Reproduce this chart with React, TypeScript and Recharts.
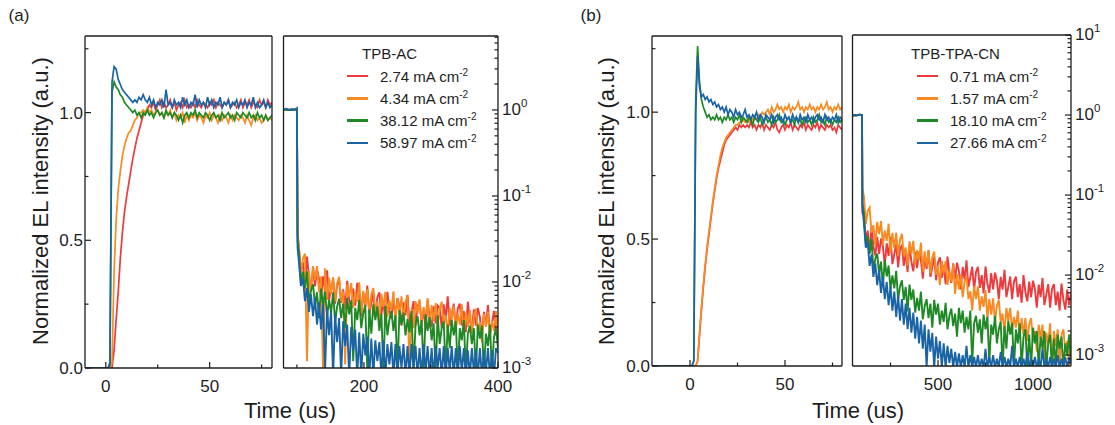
import React from 'react';
import { LineChart, Line, XAxis, YAxis } from 'recharts';

const W = 1115;
const H = 425;
const FONT = '"Liberation Sans", Arial, Helvetica, sans-serif';
const INK = '#1e1e1e';

const KEYS = ['red', 'orange', 'green', 'blue'];
const COLORS = ['#EE393D', '#F88A21', '#1F8A25', '#1A64A6'];
const CURRENTS_A = ['2.74', '4.34', '38.12', '58.97'];
const CURRENTS_B = ['0.71', '1.57', '18.10', '27.66'];

// tick values
const LIN_X_MAJOR = [0, 50];
const LIN_X_MINOR = [25, 75];
const LIN_Y_MAJOR = [0, 0.5, 1.0];
const LIN_Y_MINOR = [0.25, 0.75, 1.25];
const A2_X_MAJOR = [200, 400];
const A2_X_MINOR = [100, 300];
const B2_X_MAJOR = [500, 1000];
const B2_X_MINOR = [250, 750];
const A2_DECADES = [0.001, 0.01, 0.1, 1];
const B2_DECADES = [0.001, 0.01, 0.1, 1, 10];

// ---- (a) TPB-AC, rise (linear) ----
const T_A1 = [-10, 0, 1, 2, 3, 4, 5, 6, 7, 8, 9, 10, 11, 12, 13, 14, 15, 16, 17, 18, 19, 20,
  21, 22, 23, 24, 25, 26, 27, 28, 29, 30, 31, 32, 33, 34, 35, 36, 37, 38, 39, 40,
  41, 42, 43, 44, 45, 46, 47, 48, 49, 50, 51, 52, 53, 54, 55, 56, 57, 58, 59, 60,
  61, 62, 63, 64, 65, 66, 67, 68, 69, 70, 71, 72, 73, 74, 75, 76, 77, 78, 79, 80];
const A1_RED = [0,
  0, 0, 0, 0, 0.07, 0.19, 0.3, 0.43, 0.53, 0.61,
  0.67, 0.72, 0.77, 0.82, 0.86, 0.9, 0.93, 0.96, 0.99, 1.0,
  1.01, 1.03, 1.02, 1.04, 1.01, 1.03, 1.05, 1.02, 1.04, 1.02,
  1.03, 1.05, 1.02, 1.04, 1.01, 1.03, 1.04, 1.02, 1.05, 1.02,
  1.03, 1.02, 1.04, 1.02, 1.05, 1.03, 1.02, 1.04, 1.03, 1.02,
  1.04, 1.03, 1.05, 1.02, 1.04, 1.03, 1.02, 1.04, 1.03, 1.05,
  1.02, 1.03, 1.04, 1.02, 1.03, 1.05, 1.02, 1.04, 1.03, 1.05,
  1.02, 1.04, 1.03, 1.02, 1.05, 1.03, 1.04, 1.02, 1.05, 1.03,
  1.04];
const A1_ORANGE = [0,
  0, 0, 0, 0.02, 0.38, 0.58, 0.7, 0.77, 0.83, 0.87,
  0.9, 0.92, 0.93, 0.95, 0.97, 0.98, 1.0, 1.0, 1.01, 1.0,
  1.02, 1.0, 1.01, 0.99, 1.0, 1.01, 0.99, 1.0, 0.98, 1.0,
  0.99, 1.01, 0.98, 1.0, 0.97, 0.99, 0.98, 1.0, 0.96, 0.99,
  0.97, 0.99, 0.98, 1.0, 0.97, 0.99, 0.98, 0.96, 0.99, 0.98,
  1.0, 0.97, 0.99, 0.98, 0.96, 0.99, 0.97, 0.99, 0.98, 0.96,
  0.99, 0.97, 0.99, 0.98, 0.97, 0.99, 0.98, 0.96, 0.99, 0.97,
  0.95, 0.98, 0.99, 0.97, 0.98, 0.96, 0.97, 0.99, 0.97, 0.98,
  0.97];
const A1_GREEN = [0,
  0, 0, 0.01, 1.08, 1.12, 1.1, 1.09, 1.07, 1.06, 1.04,
  1.03, 1.02, 1.01, 1.0, 1.01, 0.99, 1.0, 0.98, 1.0, 0.99,
  1.01, 0.99, 1.0, 0.98, 1.0, 1.01, 0.99, 1.0, 0.98, 1.01,
  0.99, 1.0, 0.98, 1.0, 0.99, 0.97, 0.99, 0.96, 0.99, 1.0,
  0.98, 1.0, 0.99, 1.01, 0.98, 1.0, 0.99, 0.98, 1.0, 0.99,
  0.97, 0.99, 1.0, 0.98, 0.99, 0.97, 1.0, 0.98, 0.99, 1.0,
  0.98, 0.99, 0.97, 1.0, 0.99, 0.98, 1.0, 0.99, 0.98, 1.0,
  0.98, 0.99, 0.97, 1.0, 0.98, 0.99, 0.97, 0.99, 0.97, 0.98,
  0.99];
const A1_BLUE = [0,
  0, 0, 0.02, 1.12, 1.18, 1.17, 1.13, 1.11, 1.09, 1.08,
  1.07, 1.06, 1.05, 1.04, 1.05, 1.04, 1.06, 1.05, 1.07, 1.05,
  1.04, 1.06, 1.03, 1.05, 1.02, 1.04, 1.03, 1.05, 1.02, 1.09,
  1.03, 1.04, 1.02, 1.05, 1.03, 1.04, 1.02, 1.06, 1.03, 1.05,
  1.02, 1.04, 1.03, 1.07, 1.02, 1.05, 1.03, 1.04, 1.02, 1.06,
  1.03, 1.05, 1.02, 1.04, 1.03, 1.06, 1.02, 1.04, 1.03, 1.05,
  1.02, 1.04, 1.03, 1.05, 1.02, 1.04, 1.03, 1.05, 1.02, 1.04,
  1.03, 1.06, 1.02, 1.04, 1.02, 1.03, 1.05, 1.02, 1.04, 1.02,
  1.03];

// ---- (a) TPB-AC, decay (log) ----
const T_A2 = [80, 84, 88, 92, 96, 100, 101,
  103, 106, 109, 112, 115, 118, 121, 124, 127, 130,
  133, 136, 139, 142, 145, 148, 151, 154, 157, 160,
  163, 166, 169, 172, 175, 178, 181, 184, 187, 190,
  193, 196, 199, 202, 205, 208, 211, 214, 217, 220,
  223, 226, 229, 232, 235, 238, 241, 244, 247, 250,
  253, 256, 259, 262, 265, 268, 271, 274, 277, 280,
  283, 286, 289, 292, 295, 298, 301, 304, 307, 310,
  313, 316, 319, 322, 325, 328, 331, 334, 337, 340,
  343, 346, 349, 352, 355, 358, 361, 364, 367, 370,
  373, 376, 379, 382, 385, 388, 391, 394, 397, 400];
const A2_RED = [1.0, 1.02, 1.0, 1.01, 1.0, 1.01, 0.035,
  0.025, 0.013, 0.017, 0.0094, 0.0197, 0.0115, 0.0085, 0.0145, 0.0089, 0.014,
  0.0109, 0.0062, 0.0116, 0.008, 0.0137, 0.0062, 0.0081, 0.0109, 0.0056, 0.0092,
  0.0105, 0.0057, 0.0082, 0.0048, 0.0103, 0.0063, 0.0048, 0.0084, 0.0053, 0.0098,
  0.0068, 0.004, 0.0075, 0.0052, 0.0091, 0.0042, 0.0056, 0.0075, 0.0039, 0.0066,
  0.0076, 0.0042, 0.006, 0.0035, 0.0077, 0.0047, 0.0037, 0.0064, 0.004, 0.0065,
  0.0052, 0.0031, 0.0058, 0.0041, 0.0071, 0.0033, 0.0044, 0.006, 0.0031, 0.0052,
  0.006, 0.0033, 0.0048, 0.0028, 0.0062, 0.0039, 0.003, 0.0052, 0.0033, 0.0053,
  0.005, 0.0029, 0.0055, 0.0038, 0.0068, 0.0031, 0.0042, 0.0056, 0.0029, 0.0049,
  0.0056, 0.0031, 0.0046, 0.0026, 0.0059, 0.0036, 0.0028, 0.0048, 0.0031, 0.005,
  0.0039, 0.0023, 0.0045, 0.0031, 0.0054, 0.0025, 0.0033, 0.0046, 0.0024, 0.0041];
const A2_ORANGE = [1.0, 1.01, 1.0, 1.02, 1.0, 1.0, 0.04,
  0.026, 0.0126, 0.0187, 0.0213, 0.0012, 0.0135, 0.0077, 0.0153, 0.0105, 0.0153,
  0.0076, 0.0116, 0.0009, 0.0144, 0.0062, 0.0112, 0.0072, 0.0114, 0.006, 0.0097,
  0.0115, 0.006, 0.0078, 0.0011, 0.0094, 0.0067, 0.0097, 0.005, 0.0077, 0.0059,
  0.0099, 0.0044, 0.0079, 0.0052, 0.0083, 0.0044, 0.0071, 0.0085, 0.0045, 0.006,
  0.0035, 0.0073, 0.0051, 0.0077, 0.0039, 0.0061, 0.0047, 0.0078, 0.0034, 0.0064,
  0.0042, 0.0068, 0.0036, 0.0059, 0.007, 0.0009, 0.0049, 0.0029, 0.006, 0.0043,
  0.0063, 0.0033, 0.0051, 0.0039, 0.0065, 0.0029, 0.0054, 0.0035, 0.0057, 0.003,
  0.0049, 0.0059, 0.0032, 0.0041, 0.0025, 0.005, 0.0036, 0.0053, 0.0027, 0.0043,
  0.0032, 0.0055, 0.0025, 0.0044, 0.003, 0.0047, 0.0025, 0.004, 0.0049, 0.0026,
  0.0034, 0.002, 0.0043, 0.003, 0.0045, 0.0023, 0.0035, 0.0027, 0.0046, 0.0021];
const A2_GREEN = [1.0, 1.01, 1.0, 1.0, 1.02, 1.0, 0.03,
  0.022, 0.0098, 0.0132, 0.0084, 0.0133, 0.0057, 0.008, 0.0094, 0.0053, 0.0076,
  0.0038, 0.0084, 0.0054, 0.0077, 0.004, 0.0062, 0.0044, 0.0076, 0.0034, 0.0052,
  0.0064, 0.0038, 0.0056, 0.0029, 0.0065, 0.0042, 0.0061, 0.0012, 0.005, 0.0036,
  0.0062, 0.0029, 0.0043, 0.0054, 0.0009, 0.0048, 0.0025, 0.0055, 0.0036, 0.0052,
  0.0027, 0.0043, 0.0009, 0.0053, 0.0024, 0.0037, 0.0046, 0.0027, 0.0041, 0.0009,
  0.0047, 0.0032, 0.0044, 0.0024, 0.0037, 0.0026, 0.0046, 0.0009, 0.0032, 0.004,
  0.0024, 0.0036, 0.0009, 0.0042, 0.0027, 0.0039, 0.0021, 0.0033, 0.0009, 0.0041,
  0.0019, 0.0029, 0.0035, 0.0009, 0.0032, 0.0017, 0.0036, 0.0024, 0.0035, 0.0009,
  0.0029, 0.0021, 0.0036, 0.0009, 0.0025, 0.0031, 0.0019, 0.0029, 0.0009, 0.0032,
  0.0022, 0.0031, 0.0009, 0.0025, 0.0018, 0.0032, 0.0009, 0.0023, 0.0029, 0.0017];
const A2_BLUE = [1.01, 1.03, 1.0, 1.02, 1.0, 1.05, 0.025,
  0.017, 0.009, 0.011, 0.006, 0.0085, 0.0045, 0.0072, 0.004, 0.0065, 0.0032,
  0.0058, 0.0028, 0.0055, 0.0009, 0.005, 0.0024, 0.0046, 0.0008, 0.0042, 0.002,
  0.0038, 0.0008, 0.0035, 0.0018, 0.0032, 0.0008, 0.003, 0.0016, 0.0028, 0.0008,
  0.0026, 0.0008, 0.0025, 0.0014, 0.0023, 0.0008, 0.0022, 0.0008, 0.0021, 0.0012,
  0.002, 0.0008, 0.0021, 0.0008, 0.0019, 0.0011, 0.002, 0.0008, 0.0019, 0.0008,
  0.0018, 0.001, 0.0019, 0.0008, 0.0018, 0.0008, 0.0019, 0.001, 0.0018, 0.0008,
  0.0017, 0.0008, 0.0019, 0.0009, 0.0018, 0.0008, 0.0017, 0.0008, 0.0018, 0.001,
  0.0017, 0.0008, 0.0018, 0.0008, 0.0017, 0.0009, 0.0018, 0.0008, 0.0017, 0.0008,
  0.0018, 0.0009, 0.0017, 0.0008, 0.0016, 0.0008, 0.0017, 0.0009, 0.0016, 0.0008,
  0.0017, 0.0008, 0.0016, 0.0009, 0.0017, 0.0008, 0.0016, 0.0008, 0.0017, 0.0015];

// ---- (b) TPB-TPA-CN, rise (linear) ----
const T_B1 = [-20, 0, 1, 2, 3, 4, 5, 6, 7, 8, 9, 10, 11, 12, 13, 14, 15, 16, 17, 18, 19, 20,
  21, 22, 23, 24, 25, 26, 27, 28, 29, 30, 31, 32, 33, 34, 35, 36, 37, 38, 39, 40,
  41, 42, 43, 44, 45, 46, 47, 48, 49, 50, 51, 52, 53, 54, 55, 56, 57, 58, 59, 60,
  61, 62, 63, 64, 65, 66, 67, 68, 69, 70, 71, 72, 73, 74, 75, 76, 77, 78, 79, 80];
const B1_RED = [0,
  0, 0, 0, 0, 0.02, 0.12, 0.22, 0.31, 0.39, 0.46,
  0.52, 0.58, 0.64, 0.69, 0.74, 0.78, 0.81, 0.84, 0.87, 0.89,
  0.9, 0.91, 0.92, 0.93, 0.94, 0.93, 0.95, 0.94, 0.95, 0.94,
  0.95, 0.94, 0.96, 0.94, 0.95, 0.93, 0.95, 0.94, 0.96, 0.93,
  0.95, 0.94, 0.93, 0.95, 0.94, 0.96, 0.93, 0.92, 0.94, 0.95,
  0.93, 0.95, 0.94, 0.96, 0.93, 0.95, 0.94, 0.93, 0.95, 0.94,
  0.96, 0.93, 0.95, 0.94, 0.93, 0.95, 0.94, 0.96, 0.93, 0.95,
  0.94, 0.93, 0.95, 0.94, 0.95, 0.93, 0.94, 0.92, 0.95, 0.94,
  0.93];
const B1_ORANGE = [0,
  0, 0, 0, 0, 0.02, 0.13, 0.23, 0.32, 0.4, 0.47,
  0.53, 0.59, 0.65, 0.7, 0.75, 0.79, 0.83, 0.86, 0.88, 0.9,
  0.91, 0.92, 0.93, 0.94, 0.95, 0.95, 0.96, 0.96, 0.97, 0.96,
  0.97, 0.96, 0.98, 0.97, 0.98, 0.97, 0.99, 0.98, 1.0, 0.99,
  1.0, 1.01, 0.99, 1.02, 1.0, 1.01, 1.03, 1.01, 1.02, 1.0,
  1.02, 1.01, 1.03, 1.0, 1.02, 1.01, 1.02, 1.04, 1.01, 1.02,
  1.0, 1.02, 1.01, 1.03, 1.01, 1.02, 1.0, 1.02, 1.01, 1.03,
  1.01, 1.02, 1.04, 1.01, 1.02, 1.0, 1.02, 1.01, 1.03, 1.01,
  1.02];
const B1_GREEN = [0,
  0, 0, 0.02, 1.05, 1.26, 1.12, 1.05, 1.02, 1.0, 0.98,
  0.99, 0.97, 0.98, 0.97, 0.99, 0.97, 0.98, 0.96, 0.98, 0.97,
  0.99, 0.97, 0.98, 0.96, 0.98, 0.97, 0.99, 0.96, 0.98, 0.97,
  0.96, 0.98, 0.97, 0.95, 0.98, 0.97, 0.96, 0.98, 0.95, 0.97,
  0.98, 0.96, 0.97, 0.95, 0.98, 0.96, 0.97, 0.99, 0.96, 0.97,
  0.95, 0.97, 0.98, 0.96, 0.97, 0.95, 0.98, 0.96, 0.97, 0.95,
  0.97, 0.98, 0.96, 0.97, 0.95, 0.98, 0.96, 0.97, 0.99, 0.96,
  0.97, 0.95, 0.98, 0.96, 0.97, 0.95, 0.97, 0.96, 0.98, 0.96,
  0.97];
const B1_BLUE = [0,
  0, 0, 0.02, 1.0, 1.22, 1.1, 1.06, 1.07, 1.05, 1.06,
  1.04, 1.05, 1.03, 1.04, 1.02, 1.03, 1.01, 1.02, 1.0, 1.02,
  0.99, 1.01, 1.0, 0.98, 1.01, 0.99, 1.0, 0.98, 0.99, 1.01,
  0.98, 0.99, 0.97, 0.99, 0.98, 1.0, 0.97, 0.99, 0.98, 0.96,
  0.99, 0.98, 0.97, 0.99, 0.96, 0.98, 0.99, 0.97, 0.98, 0.96,
  0.99, 0.97, 0.98, 0.96, 0.99, 0.97, 0.98, 0.96, 0.99, 0.97,
  0.98, 0.96, 0.99, 0.97, 0.98, 0.96, 0.98, 0.99, 0.97, 0.98,
  0.96, 0.99, 0.97, 0.98, 0.96, 0.98, 0.97, 0.99, 0.96, 0.98,
  0.97];

// ---- (b) TPB-TPA-CN, decay (log) ----
const T_B2 = [50, 60, 70, 80, 90, 100, 102,
  110, 120, 130, 140, 150, 160, 170, 180, 190, 200,
  210, 220, 230, 240, 250, 260, 270, 280, 290, 300,
  310, 320, 330, 340, 350, 360, 370, 380, 390, 400,
  410, 420, 430, 440, 450, 460, 470, 480, 490, 500,
  510, 520, 530, 540, 550, 560, 570, 580, 590, 600,
  610, 620, 630, 640, 650, 660, 670, 680, 690, 700,
  710, 720, 730, 740, 750, 760, 770, 780, 790, 800,
  810, 820, 830, 840, 850, 860, 870, 880, 890, 900,
  910, 920, 930, 940, 950, 960, 970, 980, 990, 1000,
  1010, 1020, 1030, 1040, 1050, 1060, 1070, 1080, 1090, 1100,
  1110, 1120, 1130, 1140, 1150, 1160, 1170, 1180, 1190, 1200];
const B2_RED = [0.98, 1.0, 0.99, 1.0, 1.01, 1.0, 0.06,
  0.054, 0.027, 0.036, 0.0195, 0.039, 0.023, 0.0175, 0.03, 0.0184, 0.0286,
  0.0227, 0.0131, 0.025, 0.0173, 0.03, 0.0137, 0.0182, 0.0244, 0.0125, 0.0207,
  0.0239, 0.013, 0.0188, 0.0109, 0.0239, 0.0146, 0.0111, 0.0195, 0.0122, 0.0195,
  0.0154, 0.009, 0.017, 0.0119, 0.0205, 0.0095, 0.0125, 0.0169, 0.0086, 0.0144,
  0.0166, 0.0092, 0.0132, 0.0077, 0.017, 0.0104, 0.008, 0.014, 0.0089, 0.0143,
  0.0113, 0.0066, 0.0126, 0.0088, 0.0153, 0.0071, 0.0094, 0.0127, 0.0065, 0.0109,
  0.0127, 0.0069, 0.01, 0.0059, 0.0128, 0.0078, 0.006, 0.0106, 0.0066, 0.0107,
  0.0085, 0.005, 0.0095, 0.0066, 0.0116, 0.0053, 0.0071, 0.0096, 0.005, 0.0083,
  0.0096, 0.0053, 0.0077, 0.0045, 0.01, 0.0061, 0.0047, 0.0083, 0.0053, 0.0085,
  0.0067, 0.0039, 0.0076, 0.0053, 0.0092, 0.0042, 0.0057, 0.0077, 0.0039, 0.0067,
  0.0077, 0.0042, 0.0062, 0.0036, 0.0078, 0.0049, 0.0037, 0.0066, 0.0042, 0.006];
const B2_ORANGE = [0.98, 1.0, 0.99, 1.0, 1.01, 1.0, 0.12,
  0.0975, 0.0434, 0.0633, 0.07, 0.0338, 0.042, 0.0234, 0.0463, 0.0324, 0.0473,
  0.0237, 0.0359, 0.0267, 0.0438, 0.0189, 0.0336, 0.0216, 0.0338, 0.0175, 0.0276,
  0.0328, 0.0171, 0.0222, 0.013, 0.0263, 0.0184, 0.0267, 0.0134, 0.0205, 0.0153,
  0.0254, 0.011, 0.0198, 0.0128, 0.0202, 0.0105, 0.0167, 0.0196, 0.0101, 0.013,
  0.0075, 0.015, 0.0104, 0.015, 0.0075, 0.0113, 0.0083, 0.0136, 0.0058, 0.0102,
  0.0066, 0.0103, 0.0053, 0.0083, 0.0097, 0.005, 0.0063, 0.0036, 0.0073, 0.005,
  0.0072, 0.0036, 0.0054, 0.004, 0.0065, 0.0028, 0.005, 0.0032, 0.0051, 0.0026,
  0.0041, 0.0049, 0.0026, 0.0033, 0.0019, 0.0039, 0.0027, 0.0039, 0.002, 0.003,
  0.0022, 0.0036, 0.0016, 0.0029, 0.0018, 0.0029, 0.0015, 0.0024, 0.0029, 0.0015,
  0.002, 0.0011, 0.0024, 0.0016, 0.0024, 0.0008, 0.0019, 0.0014, 0.0025, 0.0007,
  0.002, 0.0013, 0.0021, 0.0007, 0.0018, 0.0021, 0.0011, 0.0015, 0.0007, 0.0019];
const B2_GREEN = [0.98, 1.0, 0.99, 1.0, 1.01, 1.0, 0.08,
  0.0585, 0.0245, 0.0308, 0.0184, 0.028, 0.0117, 0.016, 0.0185, 0.0104, 0.0147,
  0.0073, 0.0154, 0.0096, 0.0131, 0.0067, 0.0099, 0.0068, 0.0113, 0.0049, 0.0072,
  0.0086, 0.0049, 0.0071, 0.0035, 0.0076, 0.0049, 0.0066, 0.0034, 0.0052, 0.0036,
  0.0062, 0.0028, 0.0041, 0.005, 0.0029, 0.0044, 0.0022, 0.0049, 0.0032, 0.0044,
  0.0024, 0.0036, 0.0026, 0.0045, 0.0021, 0.0031, 0.0038, 0.0023, 0.0033, 0.0017,
  0.0039, 0.0025, 0.0036, 0.0019, 0.003, 0.0021, 0.0036, 0.0008, 0.0025, 0.0031,
  0.0019, 0.0028, 0.0014, 0.0032, 0.0021, 0.003, 0.0008, 0.0024, 0.0018, 0.0031,
  0.0014, 0.0021, 0.0026, 0.0007, 0.0023, 0.0012, 0.0027, 0.0018, 0.0025, 0.0007,
  0.0021, 0.0014, 0.0025, 0.0007, 0.0017, 0.0021, 0.0007, 0.0018, 0.0007, 0.0022,
  0.0014, 0.002, 0.0007, 0.0017, 0.0012, 0.002, 0.0007, 0.0014, 0.0018, 0.0007,
  0.0016, 0.0007, 0.0018, 0.0012, 0.0017, 0.0007, 0.0014, 0.001, 0.0018, 0.0008];
const B2_BLUE = [0.98, 1.0, 0.99, 1.0, 1.01, 1.0, 0.07,
  0.045, 0.022, 0.026, 0.013, 0.018, 0.0095, 0.014, 0.0075, 0.0115, 0.006,
  0.0095, 0.005, 0.0082, 0.0042, 0.0072, 0.0036, 0.0062, 0.003, 0.0056, 0.0027,
  0.005, 0.0024, 0.0044, 0.0021, 0.0039, 0.0019, 0.0034, 0.0016, 0.003, 0.0014,
  0.0027, 0.0012, 0.0024, 0.0007, 0.0021, 0.0011, 0.0019, 0.0007, 0.0017, 0.0009,
  0.0015, 0.0007, 0.0014, 0.0007, 0.0013, 0.0008, 0.0012, 0.0007, 0.0011, 0.0007,
  0.00105, 0.0007, 0.001, 0.0007, 0.0013, 0.0007, 0.001, 0.0007, 0.00095, 0.0007,
  0.001, 0.0007, 0.0009, 0.0007, 0.0012, 0.0007, 0.00095, 0.0007, 0.001, 0.0007,
  0.0009, 0.0007, 0.0011, 0.0007, 0.00095, 0.0007, 0.0009, 0.0007, 0.0013, 0.0007,
  0.0009, 0.0007, 0.00095, 0.0007, 0.0009, 0.0007, 0.0011, 0.0007, 0.0009, 0.0007,
  0.00095, 0.0007, 0.0009, 0.0007, 0.0012, 0.0007, 0.0009, 0.0007, 0.00095, 0.0007,
  0.0009, 0.0007, 0.001, 0.0007, 0.0009, 0.0007, 0.00095, 0.0007, 0.0009, 0.0008];

const buildRows = (t: number[], series: number[][]) =>
  t.map((v, i) => {
    const row: Record<string, number> = { t: v };
    KEYS.forEach((k, j) => { row[k] = series[j][i]; });
    return row;
  });

const logMinor = (decades: number[], domain: [number, number]) =>
  [decades[0] / 10, ...decades]
    .flatMap((d) => [2, 3, 4, 5, 6, 7, 8, 9].map((k) => d * k))
    .filter((v) => v > domain[0] && v < domain[1]);

const BottomTick = ({ x, y, payload, major }: any) => {
  const isMajor = major.includes(payload.value);
  return (
    <g>
      <line x1={x} y1={y} x2={x} y2={y - (isMajor ? 6 : 3.5)} stroke={INK} strokeWidth={1.2} />
      {isMajor && (
        <text x={x} y={y + 24} textAnchor="middle" fontSize={17} fontFamily={FONT} fill={INK}>
          {payload.value}
        </text>
      )}
    </g>
  );
};

const LeftTick = ({ x, y, payload, major }: any) => {
  const isMajor = major.includes(payload.value);
  return (
    <g>
      <line x1={x} y1={y} x2={x + (isMajor ? 6 : 3.5)} y2={y} stroke={INK} strokeWidth={1.2} />
      {isMajor && (
        <text x={x - 2} y={y + 6} textAnchor="end" fontSize={17} fontFamily={FONT} fill={INK}>
          {Number(payload.value).toFixed(1)}
        </text>
      )}
    </g>
  );
};

const RightLogTick = ({ x, y, payload, major }: any) => {
  const isMajor = major.includes(payload.value);
  const exp = Math.round(Math.log10(payload.value));
  return (
    <g>
      <line x1={x} y1={y} x2={x - (isMajor ? 6 : 3.5)} y2={y} stroke={INK} strokeWidth={1.2} />
      {isMajor && (
        <text x={x + 4} y={y + 5} fontSize={17} fontFamily={FONT} fill={INK}>
          10<tspan dy={-8} fontSize={11.5}>{String(exp)}</tspan>
        </text>
      )}
    </g>
  );
};

type PanelProps = {
  rows: Record<string, number>[];
  box: { left: number; top: number; right: number; bottom: number };
  xDomain: [number, number];
  xMajor: number[];
  xMinor: number[];
  yDomain: [number, number];
  yMajor: number[];
  yMinor: number[];
  log?: boolean;
};

// each axis takes 1px, so the margins are set 1px short of the plot box
function Panel({ rows, box, xDomain, xMajor, xMinor, yDomain, yMajor, yMinor, log }: PanelProps) {
  const axisLine = { stroke: INK, strokeWidth: 1.3 };
  return (
    <div style={{ position: 'absolute', left: 0, top: 0 }}>
      <LineChart
        width={W}
        height={H}
        data={rows}
        margin={{ left: box.left - 1, top: box.top - 1, right: W - box.right - 1, bottom: H - box.bottom - 1 }}
      >
        <XAxis
          xAxisId="x"
          dataKey="t"
          type="number"
          domain={xDomain}
          allowDataOverflow
          ticks={[...xMajor, ...xMinor]}
          interval={0}
          height={1}
          tickSize={0}
          tickMargin={0}
          tickLine={false}
          axisLine={axisLine}
          tick={(p: any) => <BottomTick {...p} major={xMajor} />}
        />
        <XAxis xAxisId="top" orientation="top" type="number" domain={xDomain} height={1} tick={false} tickLine={false} axisLine={axisLine} />
        <YAxis
          yAxisId="y"
          orientation={log ? 'right' : 'left'}
          type="number"
          scale={log ? 'log' : 'auto'}
          domain={yDomain}
          allowDataOverflow
          ticks={[...yMajor, ...yMinor]}
          interval={0}
          width={1}
          tickSize={0}
          tickMargin={0}
          tickLine={false}
          axisLine={axisLine}
          tick={(p: any) => (log ? <RightLogTick {...p} major={yMajor} /> : <LeftTick {...p} major={yMajor} />)}
        />
        <YAxis yAxisId="frame" orientation={log ? 'left' : 'right'} type="number" domain={[0, 1]} width={1} tick={false} tickLine={false} axisLine={axisLine} />
        {KEYS.map((k, i) => (
          <Line
            key={k}
            xAxisId="x"
            yAxisId="y"
            dataKey={k}
            type="linear"
            stroke={COLORS[i]}
            strokeWidth={log ? 1.9 : 1.7}
            dot={false}
            activeDot={false}
            isAnimationActive={false}
          />
        ))}
      </LineChart>
    </div>
  );
}

const Label = ({ x, y, size, rotate, children }: any) => (
  <div
    style={{
      position: 'absolute',
      left: x,
      top: y,
      transform: `translate(-50%, -50%)${rotate ? ' rotate(-90deg)' : ''}`,
      fontSize: size,
      fontFamily: FONT,
      color: INK,
      whiteSpace: 'nowrap',
      lineHeight: 1,
    }}
  >
    {children}
  </div>
);

function SeriesLegend({ title, titleLeft, left, currents }: any) {
  return (
    <>
      <div style={{ position: 'absolute', left: titleLeft, top: 45, fontSize: 15, fontFamily: FONT, color: INK, lineHeight: '18px' }}>
        {title}
      </div>
      {currents.map((c: string, i: number) => (
        <div
          key={c}
          style={{ position: 'absolute', left, top: 67 + i * 22.3, height: 18, display: 'flex', alignItems: 'center', fontSize: 15, fontFamily: FONT, color: INK, whiteSpace: 'nowrap' }}
        >
          <div style={{ width: 21, height: 2.5, background: COLORS[i], marginRight: 12 }} />
          <span>
            {c} mA cm<span style={{ fontSize: 10, position: 'relative', top: -6 }}>-2</span>
          </span>
        </div>
      ))}
    </>
  );
}

export default function App() {
  const a1 = buildRows(T_A1, [A1_RED, A1_ORANGE, A1_GREEN, A1_BLUE]);
  const a2 = buildRows(T_A2, [A2_RED, A2_ORANGE, A2_GREEN, A2_BLUE]);
  const b1 = buildRows(T_B1, [B1_RED, B1_ORANGE, B1_GREEN, B1_BLUE]);
  const b2 = buildRows(T_B2, [B2_RED, B2_ORANGE, B2_GREEN, B2_BLUE]);
  const a2Y: [number, number] = [0.001, 7.24];
  const b2Y: [number, number] = [0.00073, 10];

  return (
    <div style={{ position: 'absolute', left: 0, top: 0, width: W, height: H, background: '#fff', overflow: 'hidden' }}>
      <Panel rows={a1} box={{ left: 85, top: 36, right: 272, bottom: 368 }} xDomain={[-10, 80]} xMajor={LIN_X_MAJOR} xMinor={LIN_X_MINOR} yDomain={[0, 1.3]} yMajor={LIN_Y_MAJOR} yMinor={LIN_Y_MINOR} />
      <Panel rows={a2} box={{ left: 283.5, top: 36, right: 498, bottom: 368 }} xDomain={[80, 400]} xMajor={A2_X_MAJOR} xMinor={A2_X_MINOR} yDomain={a2Y} yMajor={A2_DECADES} yMinor={logMinor(A2_DECADES, a2Y)} log />
      <Panel rows={b1} box={{ left: 652, top: 36, right: 842, bottom: 366 }} xDomain={[-20, 80]} xMajor={LIN_X_MAJOR} xMinor={LIN_X_MINOR} yDomain={[0, 1.3]} yMajor={LIN_Y_MAJOR} yMinor={LIN_Y_MINOR} />
      <Panel rows={b2} box={{ left: 852.5, top: 35, right: 1071, bottom: 366 }} xDomain={[50, 1200]} xMajor={B2_X_MAJOR} xMinor={B2_X_MINOR} yDomain={b2Y} yMajor={B2_DECADES} yMinor={logMinor(B2_DECADES, b2Y)} log />

      <Label x={19} y={15} size={17}>(a)</Label>
      <Label x={591} y={15} size={17}>(b)</Label>
      <Label x={41} y={201} size={22} rotate>Normalized EL intensity (a.u.)</Label>
      <Label x={607} y={201} size={22} rotate>Normalized EL intensity (a.u.)</Label>
      <Label x={290} y={411} size={22}>Time (us)</Label>
      <Label x={858} y={411} size={22}>Time (us)</Label>

      <SeriesLegend title="TPB-AC" titleLeft={362} left={347} currents={CURRENTS_A} />
      <SeriesLegend title="TPB-TPA-CN" titleLeft={911} left={917} currents={CURRENTS_B} />
    </div>
  );
}
